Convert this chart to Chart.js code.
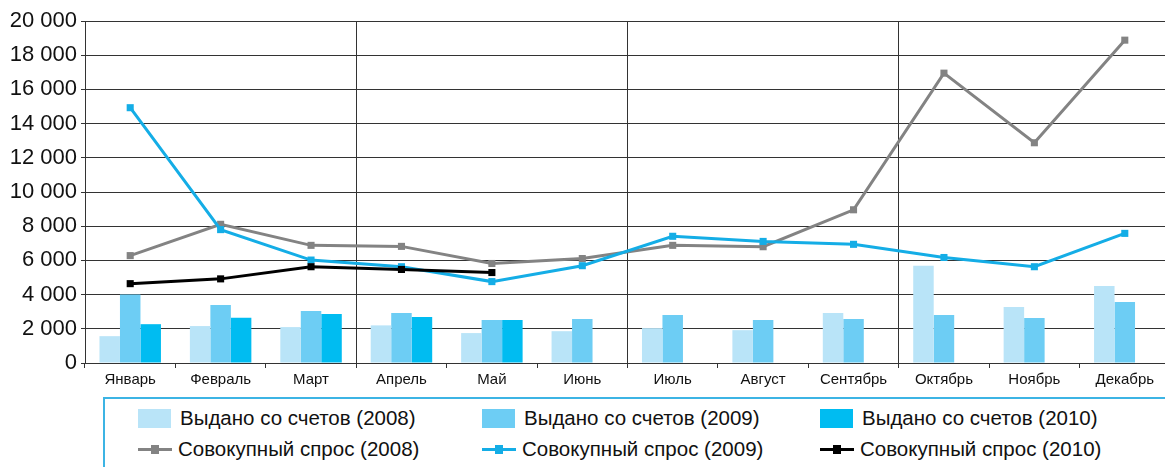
<!DOCTYPE html>
<html lang="ru">
<head>
<meta charset="UTF-8">
<title>Выдано со счетов и совокупный спрос</title>
<script src="https://cdn.jsdelivr.net/npm/chart.js"></script>
<style>
    html, body {
        margin: 0;
        padding: 0;
        background: #fff;
        overflow: hidden;
        width: 1165px;
        height: 467px;
    }
    #wrap {
        position: absolute;
        left: 0;
        top: 0;
        width: 1175px;
        height: 392px;
    }
    #legend {
        position: absolute;
        left: 103px;
        top: 397px;
        width: 1100px;
        height: 100px;
        border-top: 2px solid #3cb4e4;
        border-left: 2px solid #3cb4e4;
        font-family: "Liberation Sans", Arial, sans-serif;
        font-size: 20.5px;
        color: #111;
    }
    .item {
        position: absolute;
        display: flex;
        align-items: center;
        height: 24px;
        white-space: nowrap;
    }
    .box {
        width: 33px;
        height: 19px;
        margin-right: 9px;
    }
    .ln {
        position: relative;
        width: 34px;
        height: 3px;
        margin-right: 6px;
    }
    .ln span {
        position: absolute;
        left: 13px;
        top: -3px;
        width: 8px;
        height: 9px;
    }
</style>
</head>
<body>
<div id="wrap"><canvas id="chart"></canvas></div>
<div id="legend"></div>

<script>
    const months = ['Январь', 'Февраль', 'Март', 'Апрель', 'Май', 'Июнь',
                    'Июль', 'Август', 'Сентябрь', 'Октябрь', 'Ноябрь', 'Декабрь'];

    // Выдано со счетов
    const issued2008 = [1570, 2160, 2100, 2200, 1750, 1860, 2040, 1920, 2920, 5690, 3280, 4510];
    const issued2009 = [4000, 3390, 3040, 2920, 2510, 2570, 2800, 2510, 2570, 2800, 2630, 3570];
    const issued2010 = [2270, 2650, 2860, 2690, 2510, null, null, null, null, null, null, null];

    // Совокупный спрос
    const demand2008 = [6280, 8110, 6880, 6820, 5820, 6110, 6880, 6800, 8960, 16950, 12880, 18880];
    const demand2009 = [14930, 7800, 6020, 5630, 4760, 5690, 7410, 7110, 6940, 6170, 5630, 7580];
    const demand2010 = [4640, 4920, 5630, 5470, 5290, null, null, null, null, null, null, null];

    const yTicks = [0, 2000, 4000, 6000, 8000, 10000, 12000, 14000, 16000, 18000, 20000];

    const cLight = '#b9e4f8';
    const cMid = '#6dcdf4';
    const cDark = '#00bcf1';
    const cGray = '#838383';
    const cBlue = '#14ade6';
    const cBlack = '#000000';

    function fmt(v) {
        return String(v).replace(/\B(?=(\d{3})+(?!\d))/g, ' ');
    }

    function barSet(label, data, color) {
        return {
            type: 'bar',
            label: label,
            data: data,
            backgroundColor: color,
            borderWidth: 0,
            barPercentage: 1.0,
            categoryPercentage: 0.68,
            order: 5
        };
    }

    function lineSet(label, data, color, order) {
        return {
            type: 'line',
            label: label,
            data: data,
            borderColor: color,
            backgroundColor: color,
            borderWidth: 3,
            pointStyle: 'rect',
            pointRadius: 5,
            pointHoverRadius: 5,
            pointBorderWidth: 0,
            tension: 0,
            spanGaps: false,
            order: order
        };
    }

    const datasets = [
        barSet('Выдано со счетов (2008)', issued2008, cLight),
        barSet('Выдано со счетов (2009)', issued2009, cMid),
        barSet('Выдано со счетов (2010)', issued2010, cDark),
        lineSet('Совокупный спрос (2008)', demand2008, cGray, 3),
        lineSet('Совокупный спрос (2009)', demand2009, cBlue, 2),
        lineSet('Совокупный спрос (2010)', demand2010, cBlack, 1)
    ];

    const chart = new Chart(document.getElementById('chart'), {
        type: 'bar',
        data: { labels: months, datasets: datasets },
        options: {
            responsive: true,
            maintainAspectRatio: false,
            animation: false,
            layout: { padding: { top: 21, right: 2, left: 0, bottom: 0 } },
            plugins: {
                legend: { display: false },
                tooltip: { enabled: false }
            },
            scales: {
                x: {
                    offset: true,
                    grid: {
                        offset: true,
                        color: (c) => (c.index === 3 || c.index === 6 || c.index === 9) ? '#333' : 'rgba(0,0,0,0)',
                        tickColor: '#333',
                        tickLength: 5,
                        lineWidth: 1
                    },
                    border: { color: '#333', width: 1 },
                    ticks: {
                        color: '#111',
                        font: { family: 'Liberation Sans', size: 15 },
                        padding: 3,
                        maxRotation: 0,
                        autoSkip: false
                    }
                },
                y: {
                    min: 0,
                    max: 20000,
                    afterBuildTicks: (s) => { s.ticks = yTicks.map(v => ({ value: v })); },
                    afterFit: (s) => { s.width = 85; },
                    grid: {
                        color: '#333',
                        tickColor: '#333',
                        tickLength: 4,
                        lineWidth: 1
                    },
                    border: { color: '#333', width: 1 },
                    ticks: {
                        color: '#111',
                        font: { family: 'Liberation Sans', size: 22 },
                        padding: 4,
                        callback: (v) => fmt(v)
                    }
                }
            }
        }
    });

    // легенда: три колонки, две строки
    const legend = document.getElementById('legend');
    const colX = [33, 377, 715];
    const rowY = [7, 38];
    datasets.forEach((ds, i) => {
        const item = document.createElement('div');
        item.className = 'item';
        item.style.left = colX[i % 3] + 'px';
        item.style.top = rowY[Math.floor(i / 3)] + 'px';
        if (ds.type === 'bar') {
            const b = document.createElement('div');
            b.className = 'box';
            b.style.background = ds.backgroundColor;
            item.appendChild(b);
        } else {
            const l = document.createElement('div');
            l.className = 'ln';
            l.style.background = ds.borderColor;
            const m = document.createElement('span');
            m.style.background = ds.borderColor;
            l.appendChild(m);
            item.appendChild(l);
        }
        const t = document.createElement('span');
        t.textContent = ds.label;
        item.appendChild(t);
        legend.appendChild(item);
    });
</script>
</body>
</html>
